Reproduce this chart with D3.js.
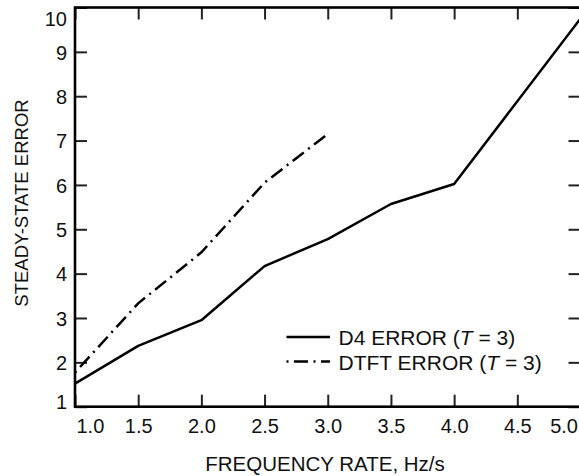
<!DOCTYPE html>
<html>
<head>
<meta charset="utf-8">
<script src="https://cdn.jsdelivr.net/npm/d3@7"></script>
<style>
  body { margin: 0; background: #fff; }
  svg text { font-family: "Liberation Sans", Arial, sans-serif; fill: #111; }
</style>
</head>
<body>
<div id="chart"></div>
<script>
var width = 579, height = 476;

// data
var freq = [1.0, 1.5, 2.0, 2.5, 3.0, 3.5, 4.0, 5.0];
var d4Err = [1.52, 2.37, 2.95, 4.17, 4.78, 5.57, 6.02, 9.75];
var dtftFreq = [1.0, 1.5, 2.0, 2.5, 3.0];
var dtftErr = [1.77, 3.33, 4.48, 6.05, 7.15];

var xTicks = [1.0, 1.5, 2.0, 2.5, 3.0, 3.5, 4.0, 4.5, 5.0];
var yTicks = [1, 2, 3, 4, 5, 6, 7, 8, 9, 10];

var legendLabels = ['D4 ERROR (', 'DTFT ERROR ('];

var svg = d3.select('#chart').append('svg')
  .attr('width', width)
  .attr('height', height);

var x = d3.scaleLinear().domain([1, 5]).range([75, 580.5]);
var y = d3.scaleLinear().domain([1, 10]).range([406.7, 7.5]);

var dashDot = '2,5.5,14,5.5';

// ticks on all four sides, pointing inward
var bottom = svg.append('g')
  .attr('transform', 'translate(0,' + y(1) + ')')
  .call(d3.axisBottom(x).tickValues(xTicks).tickSize(-12).tickPadding(12.4)
    .tickFormat(d3.format('.1f')));

var left = svg.append('g')
  .attr('transform', 'translate(' + x(1) + ',0)')
  .call(d3.axisLeft(y).tickValues(yTicks).tickSize(-12).tickPadding(8));

svg.append('g')
  .attr('transform', 'translate(0,' + y(10) + ')')
  .call(d3.axisTop(x).tickValues(xTicks).tickSize(-12).tickFormat(''));

svg.append('g')
  .attr('transform', 'translate(' + x(5) + ',0)')
  .call(d3.axisRight(y).tickValues(yTicks).tickSize(-12).tickFormat(''));

svg.selectAll('.domain').remove();
svg.selectAll('.tick line').attr('stroke', '#222').attr('stroke-width', 2);

bottom.selectAll('text')
  .attr('font-size', 20)
  .attr('fill', '#111')
  .attr('text-anchor', function(d) { return d === 1 ? 'start' : d === 5 ? 'end' : 'middle'; })
  .attr('dx', function(d) { return d === 1 ? 1 : d === 5 ? -3 : 0; });

left.selectAll('text')
  .attr('font-size', 20)
  .attr('fill', '#111')
  .attr('dy', function(d) { return d === 10 ? '0.88em' : d === 1 ? '0.08em' : '0.36em'; });

// frame
svg.append('rect')
  .attr('x', x(1))
  .attr('y', y(10))
  .attr('width', x(5) - x(1))
  .attr('height', y(1) - y(10))
  .attr('fill', 'none')
  .attr('stroke', '#000')
  .attr('stroke-width', 2.6);

var line = d3.line()
  .x(function(d) { return x(d[0]); })
  .y(function(d) { return y(d[1]); });

svg.append('path')
  .datum(d3.zip(freq, d4Err))
  .attr('d', line)
  .attr('fill', 'none')
  .attr('stroke', '#000')
  .attr('stroke-width', 2.5)
  .attr('stroke-linejoin', 'round');

svg.append('path')
  .datum(d3.zip(dtftFreq, dtftErr))
  .attr('d', line)
  .attr('fill', 'none')
  .attr('stroke', '#000')
  .attr('stroke-width', 2.5)
  .attr('stroke-dasharray', dashDot);

// legend
var leg = svg.append('g');
legendLabels.forEach(function(lab, i) {
  var ly = 337 + i * 24.6;
  leg.append('line')
    .attr('x1', 286.5).attr('x2', 330)
    .attr('y1', ly).attr('y2', ly)
    .attr('stroke', '#000')
    .attr('stroke-width', 2.5)
    .attr('stroke-dasharray', i === 0 ? null : dashDot);
  var t = leg.append('text')
    .attr('x', 338.5)
    .attr('y', ly + 8)
    .attr('font-size', 21);
  t.append('tspan').text(lab);
  t.append('tspan').attr('font-style', 'italic').text('T');
  t.append('tspan').text(' = 3)');
});

// axis titles
svg.append('text')
  .attr('x', 325)
  .attr('y', 471)
  .attr('text-anchor', 'middle')
  .attr('font-size', 20.5)
  .text('FREQUENCY RATE, Hz/s');

svg.append('text')
  .attr('transform', 'translate(27.5,203) rotate(-90)')
  .attr('text-anchor', 'middle')
  .attr('font-size', 18.5)
  .text('STEADY-STATE ERROR');
</script>
</body>
</html>
